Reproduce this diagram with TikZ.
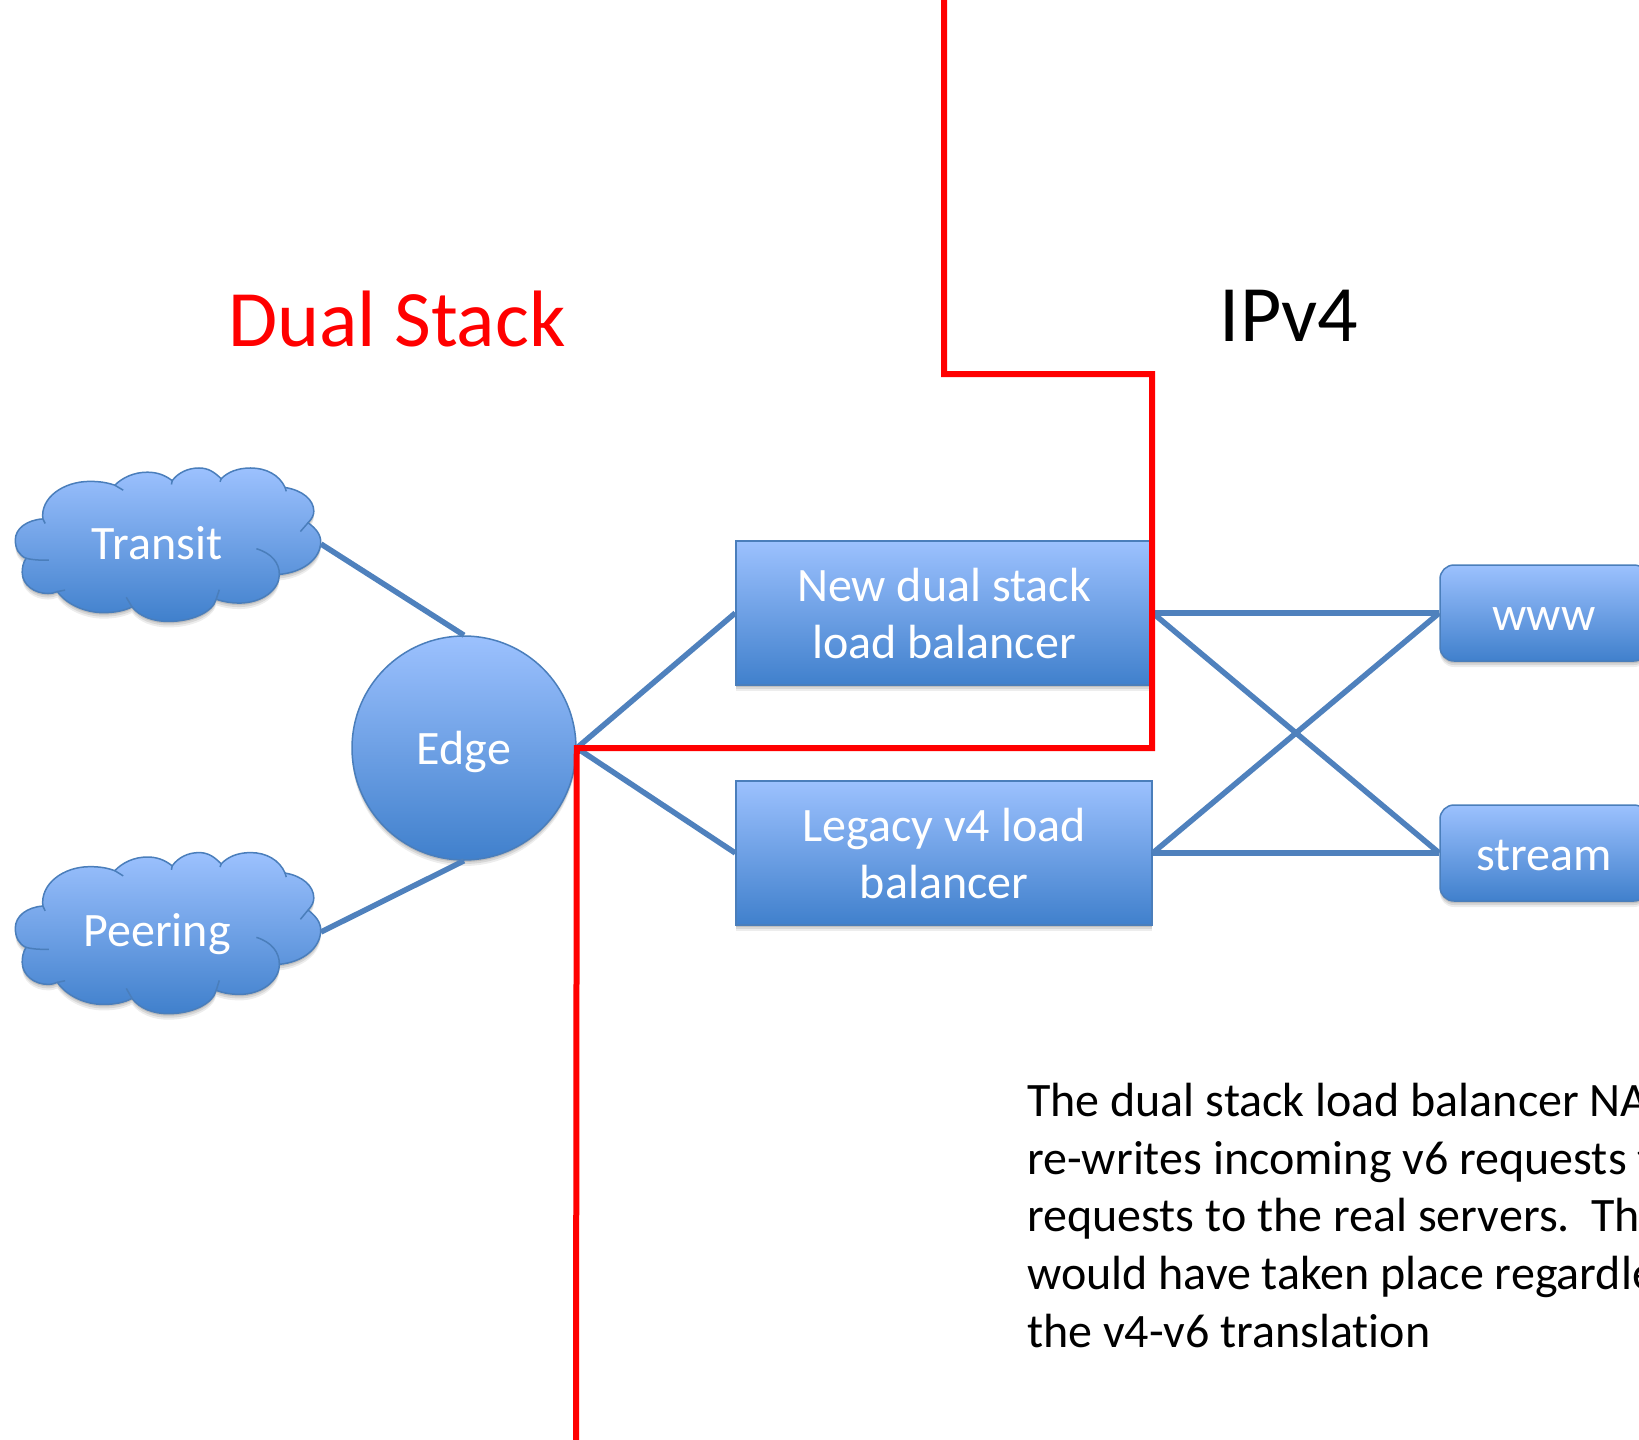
\documentclass[tikz,border=0pt]{standalone}
\usepackage{fontspec}
\setmainfont[Ligatures=NoCommon]{Carlito}
\definecolor{topblue}{HTML}{9CC1FE}
\definecolor{botblue}{HTML}{4080CC}
\definecolor{linkblue}{HTML}{4F81BD}
\definecolor{edgeblue}{HTML}{4A7EBB}
\newcommand{\lnstrut}{\rule[-7.5pt]{0pt}{49pt}}
\newcommand{\cloudshape}{%
  \path[cloudbody] (112,180) .. controls (70,183) and (40,205) .. (40,235)
    .. controls (40,258) and (50,275) .. (68,283)
    .. controls (60,295) and (58,308) .. (58,320)
    .. controls (58,352) and (90,375) .. (125,375)
    .. controls (135,375) and (143,373) .. (150,370)
    .. controls (175,405) and (225,425) .. (270,425)
    .. controls (300,425) and (325,420) .. (345,410)
    .. controls (365,435) and (400,448) .. (440,448)
    .. controls (500,448) and (555,425) .. (565,390)
    .. controls (585,397) and (605,400) .. (625,400)
    .. controls (685,400) and (730,365) .. (730,325)
    .. controls (790,320) and (838,285) .. (838,240)
    .. controls (838,220) and (825,205) .. (805,190)
    .. controls (815,180) and (820,170) .. (820,160)
    .. controls (820,130) and (790,105) .. (745,98)
    .. controls (730,65) and (695,47) .. (655,47)
    .. controls (620,47) and (595,58) .. (578,75)
    .. controls (560,58) and (545,47) .. (520,47)
    .. controls (490,47) and (465,60) .. (450,80)
    .. controls (430,65) and (410,58) .. (385,58)
    .. controls (350,58) and (320,72) .. (300,92)
    .. controls (280,85) and (260,82) .. (235,82)
    .. controls (165,82) and (105,125) .. (112,180) -- cycle;
  \draw[cloudline] (68,283) .. controls (90,288) and (110,288) .. (128,288);
  \draw[cloudline] (150,370) -- (170,366);
  \draw[cloudline] (345,410) -- (330,385);
  \draw[cloudline] (565,390) -- (573,365);
  \draw[cloudline] (670,258) .. controls (710,270) and (730,295) .. (730,325);
  \draw[cloudline] (785,213) -- (805,190);
  \draw[cloudline] (745,98) -- (748,108);
  \draw[cloudline] (578,75) -- (575,83);
  \draw[cloudline] (450,80) -- (448,90);
  \draw[cloudline] (300,92) -- (322,105);
  \draw[cloudline] (112,180) -- (118,192);
}
\tikzset{
  softshadow/.style={
    preaction={fill=black,fill opacity=.07,transform canvas={yshift=-6pt}},
    preaction={fill=black,fill opacity=.09,transform canvas={yshift=-4pt}},
    preaction={fill=black,fill opacity=.11,transform canvas={yshift=-2pt}}},
  blueshape/.style={softshadow,draw=edgeblue,line width=1.5pt,top color=topblue,bottom color=botblue,
    text=white,font=\fontsize{48}{57.6}\selectfont,align=center,inner sep=0pt},
  lbbox/.style={blueshape,rectangle,minimum width=416pt,minimum height=144pt},
  srvbox/.style={blueshape,rectangle,rounded corners=14pt,minimum width=208pt,minimum height=96pt},
  edgecircle/.style={blueshape,circle,minimum size=224pt},
  cloudbody/.style={softshadow,draw=edgeblue,line width=1.5pt,top color=topblue,bottom color=botblue},
  cloudline/.style={draw=edgeblue,line width=1.5pt},
  cloudtext/.style={text=white,font=\fontsize{48}{57.6}\selectfont,inner sep=0pt},
  link/.style={draw=linkblue,line width=5.5pt},
  redline/.style={draw=red,line width=6pt,miter limit=10},
  bigtext/.style={font=\fontsize{80}{90}\selectfont,inner sep=0pt,anchor=base},
  bodytext/.style={font=\fontsize{48}{57.6}\selectfont,align=left,inner sep=0pt,anchor=north west,text=black}
}
\begin{document}
\begin{tikzpicture}[x=1pt,y=-1pt]
\useasboundingbox (0,0) rectangle (1639,1440);
\clip (0,0) rectangle (1639,1440);
\fill[white] (0,0) rectangle (1639,1440);

\coordinate (transitE) at (321,544);
\coordinate (peeringE) at (321,932);

\node[lbbox] (lbnew) at (944,613) {\lnstrut New dual stack\\\lnstrut load balancer};
\node[lbbox] (lbold) at (944,853) {\lnstrut Legacy v4 load\\\lnstrut balancer};
\node[srvbox] (www) at (1544,613) {\lnstrut www};
\node[srvbox] (stream) at (1544,853) {\lnstrut stream};
\node[edgecircle] (edge) at (464,748) {\lnstrut Edge};

\begin{scope}[yshift=-450pt,x=.3827pt,y=-.3827pt]
\cloudshape
\end{scope}
\begin{scope}[yshift=-833.7pt,x=.3827pt,y=-.4018pt]
\cloudshape
\end{scope}
\node[cloudtext] (transit) at (157,542) {\lnstrut Transit};
\node[cloudtext] (peering) at (157,930) {\lnstrut Peering};

\draw[link] (transitE) -- (edge.north);
\draw[link] (peeringE) -- (edge.south);
\draw[link] (edge.east) -- (lbnew.west);
\draw[link] (edge.east) -- (lbold.west);
\draw[link] (lbnew.east) -- (www.west);
\draw[link] (lbnew.east) -- (stream.west);
\draw[link] (lbold.east) -- (www.west);
\draw[link] (lbold.east) -- (stream.west);

\coordinate (redtop) at (944,0);
\coordinate (redbot) at (576,1440);
\draw[redline] (redtop) -- (944,374) -- (1152,374) -- (1152,748) -- (edge.east) -- (redbot);

\node[bigtext,text=red] (dual) at (397,346) {Dual Stack};
\node[bigtext,text=black] (ipv4) at (1289,341) {IPv4};

\node[bodytext] (note) at (1027,1075) {\lnstrut The dual stack load balancer NA\\
\lnstrut re-writes incoming v6 requests t\\
\lnstrut requests to the real servers.\ \ Th\\
\lnstrut would have taken place regardle\\
\lnstrut the v4-v6 translation};
\end{tikzpicture}
\end{document}
